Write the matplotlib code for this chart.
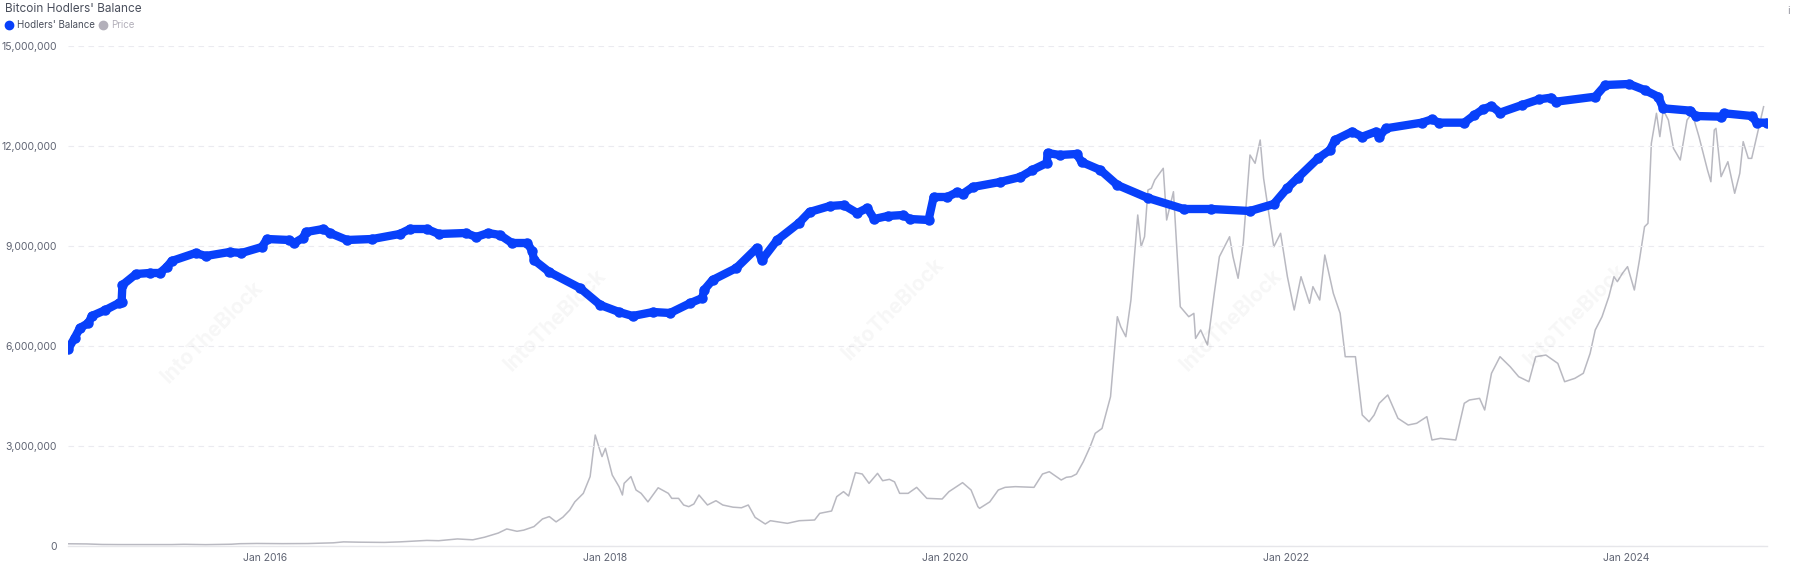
import matplotlib
matplotlib.use("Agg")
import matplotlib.pyplot as plt
from matplotlib.lines import Line2D
from matplotlib.ticker import FuncFormatter

plt.rcParams['font.family'] = ['Inter', 'DejaVu Sans']

# Hodlers' balance (decimal year, BTC)
hodl_year = [2014.84, 2014.88, 2014.91, 2014.96, 2014.98, 2015.06, 2015.14, 2015.155, 2015.16, 2015.24,
             2015.32, 2015.38, 2015.42, 2015.45, 2015.59, 2015.65, 2015.79, 2015.86, 2015.98, 2016.01,
             2016.14, 2016.17, 2016.22, 2016.24, 2016.34, 2016.38, 2016.48, 2016.63, 2016.79, 2016.85,
             2016.95, 2017.02, 2017.18, 2017.24, 2017.31, 2017.38, 2017.45, 2017.54, 2017.57, 2017.58,
             2017.67, 2017.85, 2017.97, 2018.08, 2018.16, 2018.28, 2018.38, 2018.50, 2018.57, 2018.58,
             2018.63, 2018.77, 2018.89, 2018.92, 2019.01, 2019.14, 2019.20, 2019.32, 2019.40, 2019.48,
             2019.54, 2019.58, 2019.66, 2019.75, 2019.79, 2019.90, 2019.93, 2020.01, 2020.07, 2020.10,
             2020.16, 2020.32, 2020.44, 2020.51, 2020.595, 2020.60, 2020.67, 2020.77, 2020.80, 2020.91,
             2021.01, 2021.19, 2021.40, 2021.56, 2021.79, 2021.93, 2022.01, 2022.07, 2022.19, 2022.26,
             2022.29, 2022.39, 2022.45, 2022.53, 2022.55, 2022.59, 2022.80, 2022.86, 2022.90, 2023.05,
             2023.11, 2023.16, 2023.21, 2023.26, 2023.39, 2023.49, 2023.56, 2023.59, 2023.82, 2023.88,
             2024.02, 2024.11, 2024.19, 2024.22, 2024.38, 2024.41, 2024.56, 2024.58, 2024.74, 2024.77,
             2024.83]
hodl_mln = [5.9, 6.25, 6.54, 6.69, 6.9, 7.08, 7.29, 7.32, 7.83, 8.16,
            8.19, 8.19, 8.37, 8.55, 8.79, 8.7, 8.82, 8.79, 8.97, 9.21,
            9.18, 9.09, 9.24, 9.42, 9.51, 9.39, 9.18, 9.21, 9.36, 9.51,
            9.51, 9.36, 9.39, 9.27, 9.39, 9.33, 9.09, 9.09, 8.85, 8.58,
            8.22, 7.74, 7.23, 7.02, 6.9, 7.02, 6.99, 7.29, 7.44, 7.68,
            7.98, 8.34, 8.94, 8.58, 9.18, 9.7, 10.02, 10.2, 10.23, 9.99,
            10.14, 9.81, 9.9, 9.93, 9.81, 9.78, 10.47, 10.47, 10.62, 10.56,
            10.77, 10.92, 11.07, 11.28, 11.49, 11.79, 11.73, 11.76, 11.52, 11.28,
            10.83, 10.44, 10.11, 10.11, 10.05, 10.26, 10.74, 11.04, 11.63, 11.88,
            12.18, 12.43, 12.28, 12.43, 12.28, 12.53, 12.7, 12.8, 12.7, 12.7,
            12.93, 13.1, 13.2, 13.0, 13.23, 13.4, 13.45, 13.33, 13.48, 13.83,
            13.86, 13.68, 13.48, 13.13, 13.06, 12.9, 12.88, 12.98, 12.9, 12.7,
            12.7]
hodl = [v * 1e6 for v in hodl_mln]

# BTC price (decimal year, USD)
price_year = [2014.84, 2014.95, 2015.04, 2015.15, 2015.3, 2015.45, 2015.52, 2015.65, 2015.8, 2015.85,
              2015.95, 2016.1, 2016.25, 2016.4, 2016.46, 2016.55, 2016.7, 2016.79, 2016.95, 2017.02,
              2017.13, 2017.22, 2017.29, 2017.37, 2017.42, 2017.48, 2017.52, 2017.58, 2017.63, 2017.67,
              2017.71, 2017.75, 2017.79, 2017.82, 2017.87, 2017.91, 2017.94, 2017.97, 2017.98, 2018.00,
              2018.04, 2018.08, 2018.10, 2018.11, 2018.15, 2018.18, 2018.21, 2018.25, 2018.31, 2018.37,
              2018.39, 2018.43, 2018.46, 2018.49, 2018.52, 2018.55, 2018.60, 2018.65, 2018.69, 2018.75,
              2018.80, 2018.84, 2018.88, 2018.94, 2018.97, 2019.07, 2019.14, 2019.23, 2019.26, 2019.33,
              2019.36, 2019.40, 2019.43, 2019.47, 2019.51, 2019.55, 2019.60, 2019.63, 2019.67, 2019.70,
              2019.73, 2019.78, 2019.83, 2019.89, 2019.98, 2020.02, 2020.10, 2020.15, 2020.19, 2020.20,
              2020.26, 2020.31, 2020.35, 2020.41, 2020.52, 2020.57, 2020.61, 2020.68, 2020.71, 2020.74,
              2020.77, 2020.81, 2020.85, 2020.88, 2020.92, 2020.97, 2021.01, 2021.03, 2021.06, 2021.09,
              2021.13, 2021.15, 2021.17, 2021.19, 2021.21, 2021.23, 2021.28, 2021.30, 2021.34, 2021.38,
              2021.43, 2021.46, 2021.47, 2021.50, 2021.54, 2021.58, 2021.61, 2021.67, 2021.69, 2021.72,
              2021.75, 2021.79, 2021.82, 2021.85, 2021.87, 2021.93, 2021.97, 2022.01, 2022.05, 2022.09,
              2022.14, 2022.16, 2022.20, 2022.23, 2022.28, 2022.32, 2022.35, 2022.41, 2022.45, 2022.49,
              2022.52, 2022.55, 2022.60, 2022.66, 2022.72, 2022.77, 2022.83, 2022.86, 2022.91, 2023.00,
              2023.05, 2023.08, 2023.14, 2023.17, 2023.21, 2023.26, 2023.32, 2023.37, 2023.43, 2023.47,
              2023.53, 2023.60, 2023.64, 2023.70, 2023.75, 2023.79, 2023.82, 2023.86, 2023.90, 2023.93,
              2023.95, 2023.98, 2024.01, 2024.05, 2024.08, 2024.11, 2024.13, 2024.15, 2024.18, 2024.20,
              2024.22, 2024.25, 2024.28, 2024.32, 2024.36, 2024.39, 2024.43, 2024.48, 2024.50, 2024.52,
              2024.53, 2024.56, 2024.60, 2024.64, 2024.67, 2024.69, 2024.72, 2024.74, 2024.81]
price = [380, 350, 260, 240, 235, 240, 285, 230, 300, 390,
         430, 400, 420, 540, 700, 650, 610, 700, 950, 900,
         1200, 1050, 1500, 2200, 2900, 2500, 2700, 3300, 4600, 5000,
         4100, 4900, 6100, 7500, 8950, 11800, 18870, 16030, 15200, 16600,
         12070, 10090, 8670, 10650, 11800, 9520, 8950, 7500, 9900, 8950,
         8100, 8100, 6970, 6690, 7140, 8670, 6970, 7700, 6970, 6600,
         6500, 6970, 4870, 3740, 4300, 3850, 4300, 4420, 5550, 5950,
         8390, 9240, 8500, 12470, 12240, 10650, 12350, 11100, 11330, 10900,
         8950, 8950, 9970, 8100, 7990, 9240, 10770, 9520, 6690, 6400,
         7500, 9520, 9970, 10090, 9970, 12240, 12630, 11220, 11680, 11790,
         12240, 14330, 16880, 19150, 19990, 25380, 38980, 37280, 35580, 41820,
         56270, 50880, 52580, 60520, 60800, 62220, 64210, 55420, 60230, 40680,
         38980, 39550, 35290, 36720, 34170, 42960, 49180, 52580, 49180, 45510,
         51450, 66470, 65060, 69020, 62510, 50880, 53160, 45780, 40120, 45780,
         41260, 44090, 41820, 49470, 42960, 39560, 32180, 32180, 22270, 21130,
         22270, 24260, 25670, 21710, 20570, 20860, 21990, 18020, 18300, 18020,
         24260, 24820, 25100, 23120, 29360, 32180, 30480, 28780, 27930, 32180,
         32460, 31040, 27930, 28500, 29360, 32750, 36720, 38980, 42380, 45780,
         44940, 46350, 47490, 43520, 48620, 54280, 54850, 68460, 73560, 69590,
         74120, 72420, 67610, 65620, 72420, 73560, 69590, 63920, 61930, 70720,
         71000, 62790, 65330, 59960, 63350, 68740, 65900, 65900, 74680]

x_ticks = [2016, 2018, 2020, 2022, 2024]
x_tick_labels = ['Jan 2016', 'Jan 2018', 'Jan 2020', 'Jan 2022', 'Jan 2024']
y_ticks = [0, 3e6, 6e6, 9e6, 12e6, 15e6]

fig = plt.figure(figsize=(17.96, 5.63), dpi=100)
ax = fig.add_axes([68 / 1796, 1 - 546 / 563, (1767 - 68) / 1796, 500 / 563])
ax2 = ax.twinx()
ax.set_zorder(ax2.get_zorder() + 1)
ax.patch.set_visible(False)

ax2.plot(price_year, price, color='#b9b9c1', lw=1.1)
ax2.set_ylim(0, 85000)
ax2.set_yticks([])
for s in ax2.spines.values():
    s.set_visible(False)

ax.plot(hodl_year, hodl, color='#0840fa', lw=6, solid_capstyle='round',
        solid_joinstyle='round', marker='o', ms=6.5, mec='#0840fa', mfc='#0840fa')

ax.set_xlim(2014.84, 2024.83)
ax.set_ylim(0, 15e6)
ax.set_yticks(y_ticks)
ax.yaxis.set_major_formatter(FuncFormatter(lambda v, p: f'{int(v):,}'))
ax.set_xticks(x_ticks)
ax.set_xticklabels(x_tick_labels)
ax.tick_params(axis='both', length=0, labelsize=7.5, colors='#5f6473')
ax.tick_params(axis='y', pad=8)
ax.tick_params(axis='x', pad=5)
ax.grid(axis='y', color='#ebebf0', linestyle=(0, (5, 4)), lw=0.8)
for side in ['top', 'right', 'left']:
    ax.spines[side].set_visible(False)
ax.spines['bottom'].set_color('#e6e6ea')
ax.spines['bottom'].set_linewidth(1.0)

# watermarks
for wx, wy in [(185, 290), (485, 280), (780, 270), (1075, 280), (1375, 275)]:
    fig.text(wx / 1568, 1 - wy / 492, 'IntoTheBlock', rotation=45, ha='center', va='center',
             fontsize=15, fontweight='bold', color='#000000', alpha=0.035)

fig.text(5 / 1796, 1 - 9 / 563, "Bitcoin Hodlers' Balance", fontsize=8.5, color='#4a4f5c',
         ha='left', va='center')
fig.add_artist(Line2D([9 / 1796], [1 - 25 / 563], marker='o', ms=6, color='#0840fa', lw=0))
fig.text(17 / 1796, 1 - 25 / 563, "Hodlers' Balance", fontsize=7, color='#4a4f5c',
         ha='left', va='center')
fig.add_artist(Line2D([103 / 1796], [1 - 25 / 563], marker='o', ms=6, color='#b3b0ba', lw=0))
fig.text(111 / 1796, 1 - 25 / 563, "Price", fontsize=7, color='#b3b0ba',
         ha='left', va='center')
fig.text(1789 / 1796, 1 - 11 / 563, "i", fontsize=8, color='#9a9aa5', ha='center', va='center')

fig.savefig('out.png', dpi=100)
